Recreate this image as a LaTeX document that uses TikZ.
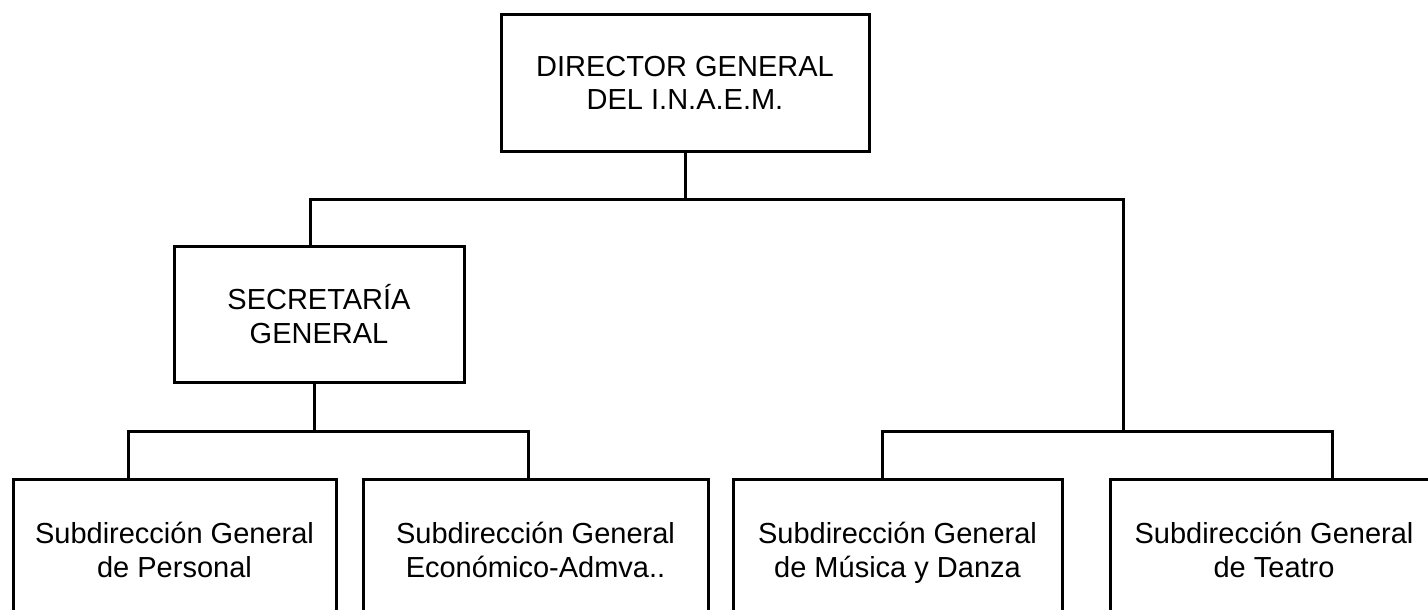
\documentclass[tikz,border=0pt]{standalone}
\usepackage{fontspec}
\setmainfont{Liberation Sans}
\begin{document}
\begin{tikzpicture}[x=1pt,y=-1pt,
  orgbox/.style={draw=black, line width=3pt, rectangle, inner sep=0pt, align=center,
    font=\fontsize{29}{33.5}\selectfont},
  link/.style={draw=black, line width=3pt}]
\clip (0,0) rectangle (1428,610);
\fill[white] (0,0) rectangle (1428,610);
% boxes
\node[orgbox, minimum width=368pt, minimum height=136pt] (dir) at (685,83)
  {DIRECTOR GENERAL\\DEL I.N.A.E.M.};
\node[orgbox, minimum width=290pt, minimum height=136pt] (sec) at (319,314)
  {SECRETARÍA\\GENERAL};
\node[orgbox, minimum width=323pt, minimum height=148pt] (per) at (174.5,553)
  {Subdirección General\\de Personal\vphantom{p}};
\node[orgbox, minimum width=345pt, minimum height=148pt] (eco) at (535.5,553)
  {Subdirección General\\Económico-Admva..\vphantom{p}};
\node[orgbox, minimum width=329pt, minimum height=148pt] (mus) at (897.5,553)
  {Subdirección General\\de Música y Danza\vphantom{p}};
\node[orgbox, minimum width=328pt, minimum height=148pt] (tea) at (1274,553)
  {Subdirección General\\de Teatro\vphantom{p}};
% junction points
\coordinate (busL) at (310,199);
\coordinate (busR) at (1123,199);
\coordinate (secdrop) at (314,431);
\coordinate (dL1) at (128,431);
\coordinate (dL2) at (528,431);
\coordinate (dR1) at (882,431);
\coordinate (dR2) at (1332,431);
\coordinate (rdrop) at (1123,431);
% connectors
\draw[link] (dir.south) -- (dir.south |- busL);
\draw[link] (busL |- sec.north) -- (busL) -- (busR) -- (rdrop);
\draw[link] (secdrop |- sec.south) -- (secdrop);
\draw[link] (dL1 |- per.north) -- (dL1) -- (dL2) -- (dL2 |- eco.north);
\draw[link] (dR1 |- mus.north) -- (dR1) -- (dR2) -- (dR2 |- tea.north);
\end{tikzpicture}
\end{document}
